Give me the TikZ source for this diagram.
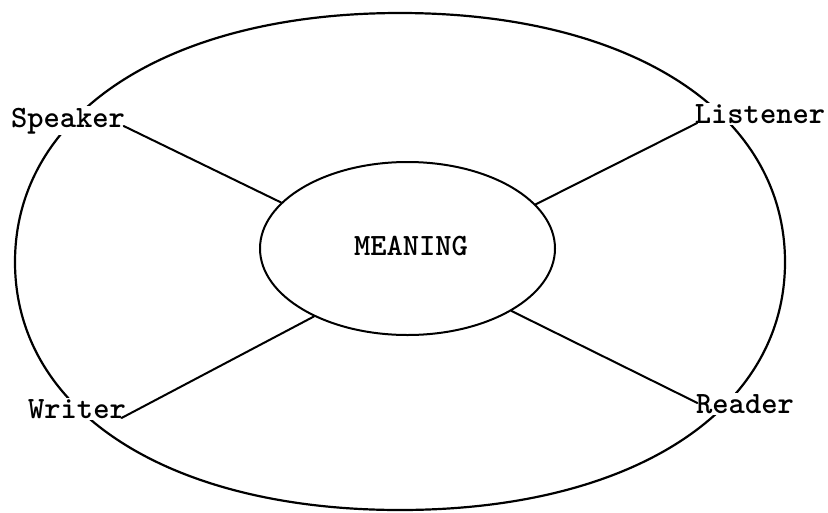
\documentclass[tikz,border=0pt]{standalone}
\usetikzlibrary{shapes.geometric}
\begin{document}
\begin{tikzpicture}[x=1pt,y=-1pt,
  lbl/.style={font=\ttfamily\bfseries\fontsize{31}{31}\selectfont, fill=white, inner sep=1.5pt, anchor=base},
  ctr/.style={font=\ttfamily\bfseries\fontsize{31}{31}\selectfont, inner sep=0pt, anchor=base},
  stroke/.style={line width=2pt, line cap=round}]
\useasboundingbox (0,0) rectangle (828,512);
% outer rounded ellipse
\draw[stroke, line width=2.2pt] (785,262) .. controls (785,112.6) and (631,13) .. (400,13)
  .. controls (169,13) and (15,112.6) .. (15,262)
  .. controls (15,411.4) and (169,510) .. (400,510)
  .. controls (631,510) and (785,411.4) .. (785,262);
% inner ellipse
\node[ellipse, draw, stroke, minimum width=295pt, minimum height=173pt, inner sep=0pt] (inner) at (407.5,248.5) {};
\node[ctr] (meaning) at (411,255) {MEANING};
% labels
\node[lbl] (speaker) at (68,127) {Speaker};
\node[lbl] (listener) at (760,123) {Listener};
\node[lbl] (writer) at (77,418) {Writer};
\node[lbl] (reader) at (745,413) {Reader};
% connectors
\draw[stroke] ([xshift=-3pt,yshift=1pt]speaker.base east) -- (inner.160);
\draw[stroke] ([xshift=4pt]listener.base west) -- (inner.19);
\draw[stroke] ([xshift=-6pt]writer.base east) -- (inner.216);
\draw[stroke] ([xshift=3pt,yshift=10pt]reader.base west) -- (inner.329);
\end{tikzpicture}
\end{document}
